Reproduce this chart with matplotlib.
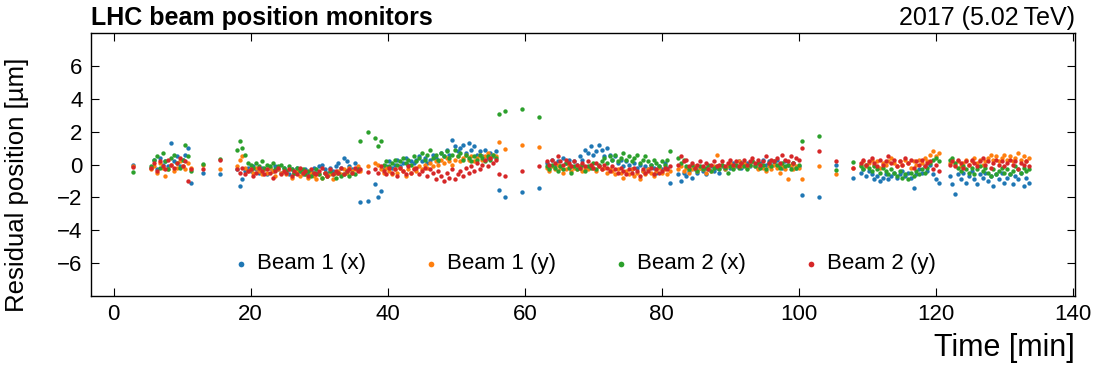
import numpy as np
import matplotlib
matplotlib.use("Agg")
import matplotlib.pyplot as plt

# ---- sampling segments (time in minutes) ----
SEG_START = [2.9, 5.5, 13.0, 15.5, 18.0, 37.1, 38.2, 56.2, 57.1, 59.6, 62.1, 63.2, 82.4, 100.4, 103.0, 105.4, 107.9, 109.0, 122.0]
SEG_END   = [2.9, 11.3, 13.0, 15.5, 36.0, 37.1, 55.8, 56.2, 57.1, 59.6, 62.1, 81.2, 100.0, 100.4, 103.0, 105.4, 107.9, 120.4, 133.6]
SEG_N     = [1, 15, 1, 1, 46, 1, 45, 1, 1, 1, 1, 46, 45, 1, 1, 1, 1, 29, 30]

# ---- Beam 1 (x) ----
beam1_x = (
    [0.0]
    + [-0.2, 0.3, -0.3, 0.4, 0.0, 0.2, -0.1, 1.3, 0.2, 0.5, -0.1, 0.3, 0.6, 1.0, -1.1]
    + [-0.5] + [-0.6]
    + [-0.3, -1.3, -0.9, -0.4, -0.2, -0.4, -0.1, -0.3, -0.5, -0.2, -0.3, -0.6, -0.2, -0.4, -0.1, -0.3,
       -0.5, -0.2, -0.4, -0.6, -0.3, -0.5, -0.2, -0.4, -0.6, -0.3, -0.5, -0.4, -0.2, -0.5, -0.1, 0.0,
       -0.3, -0.5, -0.2, -0.4, -0.1, 0.1, -0.2, 0.4, 0.2, -0.1, -0.3, 0.1, -0.2, -2.3]
    + [-2.2]
    + [-1.2, -2.0, -1.6, -0.3, -0.1, 0.2, -0.2, 0.0, 0.3, -0.1, 0.1, 0.4, 0.0, 0.2, 0.1, 0.3, 0.5, 0.2,
       0.4, 0.1, 0.3, 0.6, 0.4, 0.2, 0.7, 0.5, 0.9, 0.6, 1.5, 1.1, 0.8, 1.0, 1.2, 0.7, 1.3, 0.9, 1.1,
       0.6, 0.8, 0.5, 0.9, 0.4, 0.7, 0.5, 0.8]
    + [-1.56, -2.0, -1.69, -1.4]
    + [0.1, -0.2, 0.3, 0.0, 0.2, -0.1, 0.4, 0.1, 0.3, -0.1, 0.2, 0.0, 0.5, 0.3, 0.9, 0.7, 1.1, 0.6,
       0.8, 1.2, 0.9, 0.5, 1.0, 0.6, 0.3, 0.5, 0.1, 0.3, -0.1, 0.2, 0.0, -0.3, 0.1, -0.2, 0.0, -0.4,
       -0.1, -0.3, 0.0, -0.2, -0.5, -0.1, -0.3, 0.1, -0.2, -1.1]
    + [-0.6, -1.0, -0.5, -0.7, -0.4, -0.8, -0.3, -0.5, -0.2, -0.4, -0.6, -0.3, -0.1, -0.4, -0.2, -0.5,
       -0.1, -0.3, 0.0, -0.2, 0.1, -0.1, 0.2, -0.2, 0.0, 0.1, -0.1, 0.2, 0.0, -0.2, 0.1, 0.3, 0.0, 0.2,
       -0.1, 0.1, 0.3, 0.0, -0.2, 0.2, 0.0, -0.1, 0.1, -0.2, -0.1]
    + [-1.87, -1.98, -0.06, -0.85]
    + [-0.5, -0.3, -0.7, -0.4, -0.6, -0.9, -0.7, -1.0, -0.8, -0.6, -0.9, -0.7, -0.5, -0.8, -0.6, -0.4,
       -0.7, -0.5, -0.8, -1.4, -0.6, -0.3, -0.5, -0.1, -0.4, 0.0, -0.6, -0.9, -1.1]
    + [-0.7, -1.2, -1.8, -0.6, -0.9, -0.5, -1.1, -0.7, -0.4, -0.9, -1.2, -0.6, -0.8, -0.5, -1.0, -0.7,
       -1.3, -0.6, -0.9, -0.5, -1.1, -0.8, -0.6, -1.2, -0.7, -0.9, -0.5, -1.3, -0.8, -1.1]
)

# ---- Beam 1 (y) ----
beam1_y = (
    [-0.1]
    + [-0.3, -0.1, -0.5, 0.1, -0.2, -0.7, -0.3, 0.0, -0.4, -0.2, 0.2, -0.1, -0.3, 0.1, -0.2]
    + [-0.06] + [-0.27]
    + [-0.1, 0.3, 0.5, -0.2, -0.4, -0.3, -0.5, -0.2, -0.4, -0.6, -0.3, -0.5, -0.2, -0.4, -0.7, -0.3,
       -0.5, -0.4, -0.6, -0.3, -0.8, -0.5, -0.4, -0.7, -0.5, -0.6, -0.8, -0.5, -0.7, -0.9, -0.6, -0.8,
       -0.5, -0.7, -0.6, -0.9, -0.5, -0.4, -0.6, -0.3, -0.5, -0.2, -0.4, -0.3, -0.1, -0.4]
    + [-0.1]
    + [0.1, 0.0, -0.3, -0.5, -0.2, -0.4, -0.6, -0.3, -0.5, -0.2, -0.4, -0.7, -0.3, -0.5, -0.2, -0.4,
       -0.1, -0.3, 0.0, -0.2, 0.1, -0.1, 0.2, 0.0, 0.3, 0.1, 0.4, 0.2, 0.0, 0.3, 0.5, 0.2, 0.4, 0.6,
       0.3, 0.5, 0.2, 0.4, 0.6, 0.3, 0.5, 0.7, 0.4, 0.6, 0.5]
    + [1.34, 0.95, 1.2, 1.05]
    + [-0.2, -0.4, -0.1, -0.3, 0.0, -0.2, -0.5, -0.3, -0.1, -0.4, -0.2, -0.3, -0.1, -0.4, -0.2, -0.3,
       0.0, -0.2, -0.4, -0.1, -0.3, -0.2, -0.5, -0.3, -0.4, -0.6, -0.3, -0.5, -0.8, -0.4, -0.6, -0.3,
       -0.7, -0.5, -0.9, -0.4, -0.6, -0.3, -0.5, -0.7, -0.4, -0.2, -0.5, -0.3, -0.6, -0.4]
    + [-0.3, -0.1, -0.4, -0.2, -0.5, -0.3, -0.1, -0.4, -0.2, -0.3, -0.5, -0.2, -0.4, -0.1, 0.6, -0.2,
       0.0, -0.3, -0.1, 0.1, -0.2, 0.0, 0.2, -0.1, 0.1, -0.2, 0.0, 0.2, -0.1, -0.3, 0.0, -0.2, -0.4,
       -0.1, -0.3, 0.0, -0.2, -0.5, -0.1, -0.3, -0.9, 0.0, -0.3, -0.1, -0.2]
    + [-0.88, -0.1, -0.6, -0.2]
    + [0.0, 0.2, -0.1, 0.1, 0.3, 0.0, 0.2, -0.2, 0.1, 0.0, 0.2, 0.4, 0.1, -0.1, 0.2, 0.0, 0.3, 0.1,
       -0.2, 0.2, 0.0, 0.3, 0.1, 0.4, 0.2, 0.6, 0.8, 0.5, 0.7]
    + [0.1, 0.3, 0.0, 0.2, -0.1, 0.1, 0.3, 0.0, 0.2, 0.4, 0.1, 0.3, 0.0, 0.2, 0.4, 0.6, 0.3, 0.5,
       0.2, 0.4, 0.6, 0.3, 0.5, 0.2, 0.4, 0.7, 0.3, 0.5, 0.2, 0.4]
)

# ---- Beam 2 (x) ----
beam2_x = (
    [-0.45]
    + [-0.1, 0.3, 0.5, -0.2, 0.7, 0.2, -0.3, 0.4, 0.6, 0.1, -0.2, 0.3, 1.2, 0.5, -0.4]
    + [0.04] + [0.35]
    + [0.9, 1.4, 1.0, 0.6, 0.1, 0.0, -0.2, 0.1, -0.1, 0.2, -0.2, 0.0, -0.1, 0.1, -0.3, -0.1, 0.0,
       -0.2, -0.4, -0.1, -0.3, -0.5, -0.2, -0.4, -0.3, -0.6, -0.4, -0.7, -0.5, -0.3, -0.6, -0.8,
       -0.5, -0.7, -0.4, -0.6, -0.8, -0.5, -0.7, -0.6, -0.4, -0.7, -0.5, -0.6, -0.3, 1.4]
    + [2.0]
    + [1.6, 1.1, 1.4, 0.0, 0.2, -0.1, 0.1, 0.3, 0.0, 0.2, 0.4, 0.1, 0.3, 0.0, 0.5, 0.2, 0.4, 0.7,
       0.3, 0.6, 0.9, 0.4, 0.6, 0.3, 0.7, 0.5, 0.8, 0.4, 0.6, 0.9, 0.5, 0.7, 0.3, 0.6, 0.4, 0.2, 0.5,
       0.3, 0.6, 0.4, 0.2, 0.5, 0.3, 0.6, 0.4]
    + [3.1, 3.25, 3.35, 2.88]
    + [-0.1, -0.3, 0.0, -0.2, -0.4, -0.1, -0.3, 0.1, -0.2, -0.5, -0.1, -0.3, -0.2, 0.0, -0.4, -0.1,
       -0.2, 0.1, -0.3, 0.0, 0.2, 0.4, 0.1, 0.5, 0.3, 0.6, 0.2, 0.4, 0.7, 0.3, 0.5, 0.2, 0.4, 0.6, 0.1,
       0.3, 0.5, 0.2, 0.0, 0.3, 0.1, -0.1, 0.2, 0.0, 0.3, 0.8]
    + [0.4, 0.1, 0.3, -0.1, -0.3, 0.0, -0.2, -0.4, -0.1, -0.3, -0.2, 0.0, -0.4, -0.2, -0.1, -0.3,
       0.0, -0.2, -0.5, -0.1, -0.3, 0.0, -0.2, 0.1, -0.1, -0.3, 0.0, 0.2, -0.1, 0.1, -0.2, 0.0, -0.3,
       0.1, -0.1, 0.2, 0.0, -0.2, 0.1, -0.1, 0.0, -0.3, 0.1, -0.2, 0.0]
    + [1.42, 1.73, -0.31, 0.14]
    + [-0.1, -0.3, 0.0, -0.2, -0.4, -0.1, -0.3, -0.5, -0.2, -0.4, -0.6, -0.3, -0.5, -0.7, -0.4, -0.8,
       -0.6, -0.9, -0.5, -0.7, -0.4, -0.6, -0.3, -0.5, -0.2, 0.1, 0.3, 0.4, 0.2]
    + [0.3, 0.4, 0.1, -0.2, -0.4, -0.1, -0.3, -0.5, -0.2, -0.6, -0.3, -0.1, -0.4, -0.2, -0.5, -0.7,
       -0.3, -0.6, -0.4, -0.2, -0.5, -0.3, -0.6, -0.4, -0.1, -0.3, -0.5, -0.2, -0.4, -0.3]
)

# ---- Beam 2 (y) ----
beam2_y = (
    [-0.15]
    + [-0.2, 0.1, -0.4, 0.2, -0.1, -0.3, 0.3, 0.0, -0.2, 0.1, 0.4, -0.1, 0.2, -1.0, -0.3]
    + [-0.27] + [0.25]
    + [-0.3, -0.5, -0.2, -0.6, -0.4, -0.3, -0.7, -0.5, -0.2, -0.4, -0.6, -0.3, -0.5, -0.8, -0.4,
       -0.2, -0.6, -0.4, -0.5, -0.3, -0.7, -0.4, -0.6, -0.2, -0.5, -0.4, -0.7, -0.3, -0.5, -0.6,
       -0.4, -0.2, -0.5, -0.7, -0.3, -0.6, -0.4, -0.5, -0.2, -0.6, -0.4, -0.3, -0.5, -0.2, -0.4, -0.3]
    + [-0.47]
    + [-0.3, -0.5, -0.1, -0.4, -0.6, -0.2, -0.5, -0.3, -0.7, -0.2, -0.4, -0.6, -0.1, -0.5, -0.3,
       -0.2, -0.6, -0.4, -0.2, -0.7, -0.3, -0.5, -0.9, -0.4, -0.7, -1.0, -0.5, -0.8, -0.3, -0.9,
       -0.6, -0.4, -0.7, -0.2, -0.5, -0.1, -0.4, 0.1, -0.3, 0.0, 0.3, -0.1, 0.4, 0.1, 0.3]
    + [-0.57, -0.72, -0.41, -0.08]
    + [0.2, 0.0, 0.3, 0.1, 0.5, 0.2, 0.0, 0.3, 0.1, -0.1, 0.2, 0.0, -0.2, 0.1, -0.1, 0.2, 0.0, -0.2,
       0.1, -0.1, -0.3, 0.0, -0.2, -0.4, -0.1, -0.3, -0.5, -0.2, -0.4, -0.6, -0.3, -0.5, -0.2, -0.4,
       -0.7, -0.3, -0.5, -0.4, -0.2, -0.6, -0.3, -0.5, -0.4, -0.2, -0.3, -0.1]
    + [0.0, 0.5, 0.2, 0.3, -0.1, 0.1, -0.2, 0.0, 0.2, -0.1, 0.1, -0.3, 0.0, 0.2, -0.1, 0.0, 0.2,
       -0.1, 0.1, 0.3, 0.0, 0.2, -0.1, 0.1, 0.3, 0.0, 0.2, 0.4, 0.1, 0.3, 0.0, 0.2, 0.5, 0.1, 0.3,
       0.2, 0.4, 0.1, 0.6, 0.3, 0.2, 0.5, 0.1, 0.4, 0.3]
    + [1.0, 0.8, 0.23, -0.23]
    + [0.1, 0.3, 0.0, 0.2, 0.4, 0.1, -0.1, 0.3, 0.0, 0.2, 0.5, 0.1, 0.3, -0.1, 0.2, 0.0, 0.4, 0.1,
       0.3, -0.2, 0.2, 0.0, 0.3, -0.1, 0.1, 0.2, -0.3, 0.0, -0.4]
    + [0.0, 0.2, -0.1, 0.3, 0.1, -0.2, 0.2, 0.0, 0.3, 0.1, -0.1, 0.2, 0.4, 0.0, 0.2, -0.2, 0.1, 0.3,
       0.0, 0.2, -0.1, 0.1, 0.3, 0.0, 0.2, -0.3, 0.1, 0.0, 0.2, -0.1]
)

SERIES_LABELS = ["Beam 1 (x)", "Beam 1 (y)", "Beam 2 (x)", "Beam 2 (y)"]
SERIES_COLORS = ["#1f77b4", "#ff7f0e", "#2ca02c", "#d62728"]
X_TICKS = [0, 20, 40, 60, 80, 100, 120, 140]
Y_TICKS = [-6, -4, -2, 0, 2, 4, 6]

time = np.concatenate([np.linspace(s, e, n) for s, e, n in zip(SEG_START, SEG_END, SEG_N)])
series = [beam1_x, beam1_y, beam2_x, beam2_y]
for s in series:
    assert len(s) == len(time), (len(s), len(time))

plt.rcParams["font.family"] = ["Liberation Sans", "DejaVu Sans"]

fig = plt.figure(figsize=(11, 3.67), dpi=100)
ax = fig.add_axes([0.0827, 0.1935, 0.8946, 0.7165])

for vals, lab, col in zip(series, SERIES_LABELS, SERIES_COLORS):
    ax.scatter(time, vals, s=10, color=col, linewidths=0, label=lab)

ax.set_xlim(-3.3, 140.3)
ax.set_ylim(-8, 8)
ax.set_xticks(X_TICKS)
ax.set_yticks(Y_TICKS)
ax.set_yticklabels(["\u22126", "\u22124", "\u22122", "0", "2", "4", "6"])
ax.tick_params(axis="both", which="major", direction="in", length=6, width=0.8,
               top=True, right=True, labelsize=16, pad=6)
for sp in ax.spines.values():
    sp.set_linewidth(1.0)

ax.set_xlabel("Time [min]", fontsize=22, loc="right")
ax.xaxis.set_label_coords(1.0, -0.14)
ax.set_ylabel("Residual position [\u00b5m]", fontsize=18.5)
ax.yaxis.set_label_coords(-0.063, 0.422)

ax.text(0.0, 1.03, "LHC beam position monitors", transform=ax.transAxes,
        ha="left", va="baseline", fontsize=18, fontweight="bold")
ax.text(1.0, 1.03, "2017 (5.02\u2009TeV)", transform=ax.transAxes,
        ha="right", va="baseline", fontsize=18)

ax.legend(loc="center", bbox_to_anchor=(0.500, 0.122), ncol=4, frameon=False,
          fontsize=16, markerscale=1.3, handletextpad=0.2, columnspacing=2.45,
          handlelength=1.0)

fig.savefig("out.png", dpi=100)
